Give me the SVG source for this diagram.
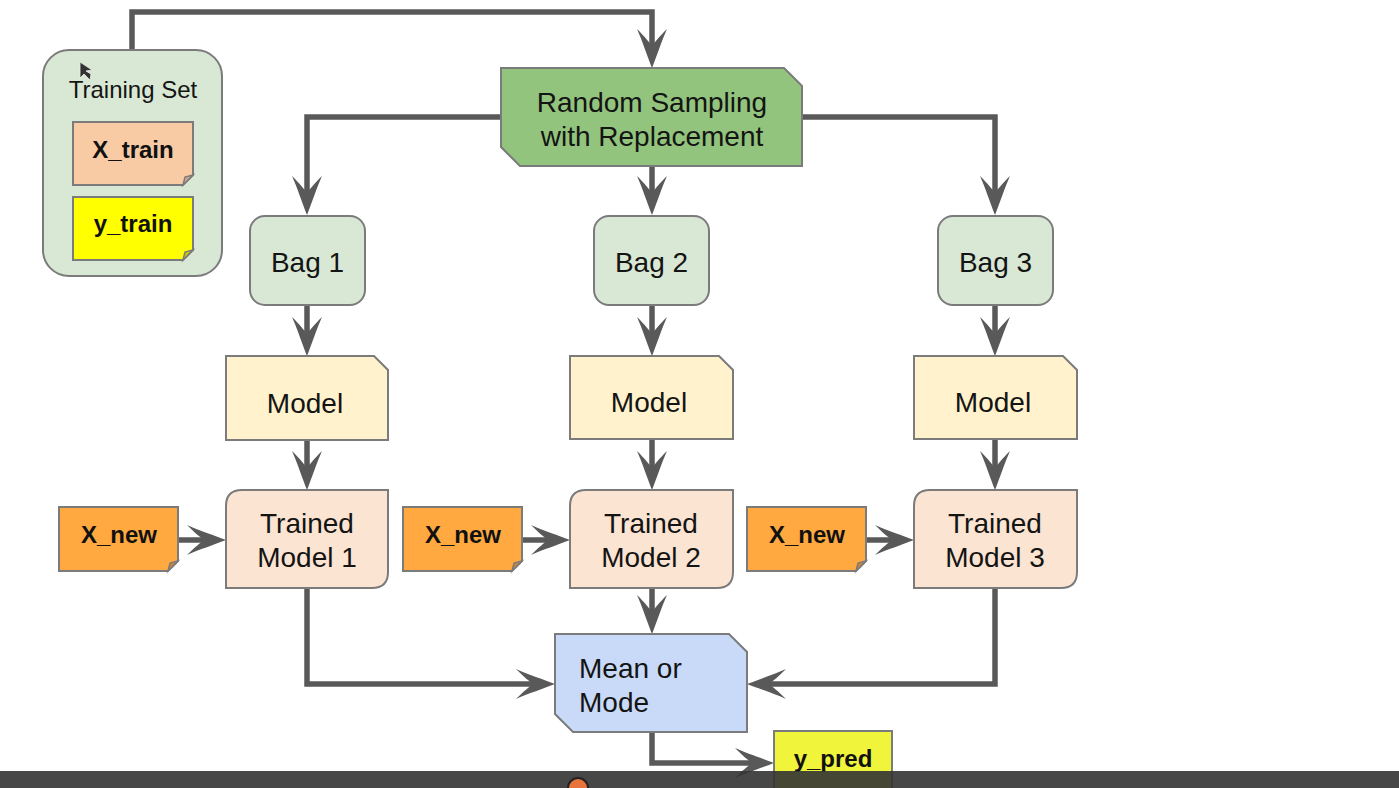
<svg xmlns="http://www.w3.org/2000/svg" width="1399" height="788" viewBox="0 0 1399 788">
<style>
.box{stroke:#7b7b7b;stroke-width:2}
.fold{stroke:#7b7b7b;stroke-width:1.5}
.t{font-family:"Liberation Sans",Arial,sans-serif;font-size:28px;fill:#141414;text-anchor:middle}
.ts{font-family:"Liberation Sans",Arial,sans-serif;font-size:24px;fill:#141414;text-anchor:middle}
.tb{font-family:"Liberation Sans",Arial,sans-serif;font-size:24px;font-weight:bold;fill:#111;text-anchor:middle}
.c{fill:none;stroke:#595959;stroke-width:5.5;stroke-linejoin:miter;marker-end:url(#ah)}
</style>
<defs>
<marker id="ah" markerUnits="userSpaceOnUse" viewBox="-40 -16 42 32" markerWidth="42" markerHeight="32" refX="-16" refY="0" orient="auto" overflow="visible">
<path d="M0,0 C-10,-4 -28,-10 -39,-15 C-31,-7 -26,-3 -22,0 C-26,3 -31,7 -39,15 C-28,10 -10,4 0,0 Z" fill="#595959"/>
</marker>
</defs>
<rect width="1399" height="788" fill="#ffffff"/>

<g id="connectors">
<path class="c" d="M132,50 V12 H652 V52"/>
<path class="c" d="M501,117 H307 V199"/>
<path class="c" d="M652,166 V199"/>
<path class="c" d="M802,117 H995 V199"/>
<path class="c" d="M307,305 V340"/>
<path class="c" d="M652,305 V340"/>
<path class="c" d="M995,305 V340"/>
<path class="c" d="M307,440 V474"/>
<path class="c" d="M652,440 V474"/>
<path class="c" d="M995,440 V474"/>
<path class="c" d="M178,540 H210"/>
<path class="c" d="M522,540 H554"/>
<path class="c" d="M866,540 H898"/>
<path class="c" d="M307,588 V684 H539"/>
<path class="c" d="M652,588 V618"/>
<path class="c" d="M995,588 V684 H763"/>
<path class="c" d="M652,732 V763 H758"/>
</g>

<g id="training-set">
<rect class="box" x="43" y="50" width="179" height="226" rx="26" fill="#d9e8d5"/>
<text class="ts" x="133" y="98">Training Set</text>
</g>
<g id="x-train">
<path class="box" d="M73,122 H193 V175 L183,185 H73 Z" fill="#f8cba4"/>
<path class="fold" d="M183,185 L185,177 L193,175 Z" fill="#d4a989"/>
<text class="tb" x="133" y="158">X_train</text>
</g>
<g id="y-train">
<path class="box" d="M73,197 H193 V250 L183,260 H73 Z" fill="#ffff00"/>
<path class="fold" d="M183,260 L185,252 L193,250 Z" fill="#cccc00"/>
<text class="tb" x="133" y="232">y_train</text>
</g>

<g id="random-sampling">
<path class="box" d="M501,68 H784 L802,86 V166 H520 L501,147 Z" fill="#93c47d"/>
<text class="t" x="652" y="112">Random Sampling</text>
<text class="t" x="652" y="146">with Replacement</text>
</g>

<g id="bag1">
<rect class="box" x="250" y="216" width="115" height="89" rx="15" fill="#d9e8d5"/>
<text class="t" x="307.5" y="272">Bag 1</text>
</g>
<g id="bag2">
<rect class="box" x="594" y="216" width="115" height="89" rx="15" fill="#d9e8d5"/>
<text class="t" x="651.5" y="272">Bag 2</text>
</g>
<g id="bag3">
<rect class="box" x="938" y="216" width="115" height="89" rx="15" fill="#d9e8d5"/>
<text class="t" x="995.5" y="272">Bag 3</text>
</g>

<g id="model1">
<path class="box" d="M226,356 H374 L388,370 V440 H226 Z" fill="#fff2cc"/>
<text class="t" x="305" y="413">Model</text>
</g>
<g id="model2">
<path class="box" d="M570,356 H719 L733,370 V439 H570 Z" fill="#fff2cc"/>
<text class="t" x="649" y="412">Model</text>
</g>
<g id="model3">
<path class="box" d="M914,356 H1063 L1077,370 V439 H914 Z" fill="#fff2cc"/>
<text class="t" x="993" y="412">Model</text>
</g>

<g id="trained1">
<path class="box" d="M242,490 H388 V572 Q388,588 372,588 H226 V506 Q226,490 242,490 Z" fill="#fce4d2"/>
<text class="t" x="307" y="533">Trained</text>
<text class="t" x="307" y="567">Model 1</text>
</g>
<g id="trained2">
<path class="box" d="M586,490 H733 V572 Q733,588 717,588 H570 V506 Q570,490 586,490 Z" fill="#fce4d2"/>
<text class="t" x="651" y="533">Trained</text>
<text class="t" x="651" y="567">Model 2</text>
</g>
<g id="trained3">
<path class="box" d="M930,490 H1077 V572 Q1077,588 1061,588 H914 V506 Q914,490 930,490 Z" fill="#fce4d2"/>
<text class="t" x="995" y="533">Trained</text>
<text class="t" x="995" y="567">Model 3</text>
</g>

<g id="xnew1">
<path class="box" d="M59,507 H178 V561 L168,571 H59 Z" fill="#ffa940"/>
<path class="fold" d="M168,571 L170,563 L178,561 Z" fill="#cc8533"/>
<text class="tb" x="119" y="543">X_new</text>
</g>
<g id="xnew2">
<path class="box" d="M403,507 H522 V561 L512,571 H403 Z" fill="#ffa940"/>
<path class="fold" d="M512,571 L514,563 L522,561 Z" fill="#cc8533"/>
<text class="tb" x="463" y="543">X_new</text>
</g>
<g id="xnew3">
<path class="box" d="M747,507 H866 V561 L856,571 H747 Z" fill="#ffa940"/>
<path class="fold" d="M856,571 L858,563 L866,561 Z" fill="#cc8533"/>
<text class="tb" x="807" y="543">X_new</text>
</g>

<g id="mean-mode">
<path class="box" d="M555,634 H729 L747,652 V732 H573 L555,714 Z" fill="#c9daf8"/>
<text class="t" x="579" y="678" style="text-anchor:start">Mean or</text>
<text class="t" x="579" y="712" style="text-anchor:start">Mode</text>
</g>

<g id="y-pred">
<path class="box" d="M774,731 H892 V790 H774 Z" fill="#f0f53c"/>
<text class="tb" x="833" y="767">y_pred</text>
</g>

<g id="player-bar">
<rect x="0" y="771" width="1399" height="17" fill="#333333" fill-opacity="0.9"/>
<circle cx="578" cy="788" r="10" fill="#e8743b" stroke="#222" stroke-width="2"/>
</g>
<g id="cursor">
<path d="M80,62 L80,78 L84,74 L90,80 L91,74 L86,71 L92,70 Z" fill="#333" stroke="#eee" stroke-width="0.8"/>
</g>
</svg>
